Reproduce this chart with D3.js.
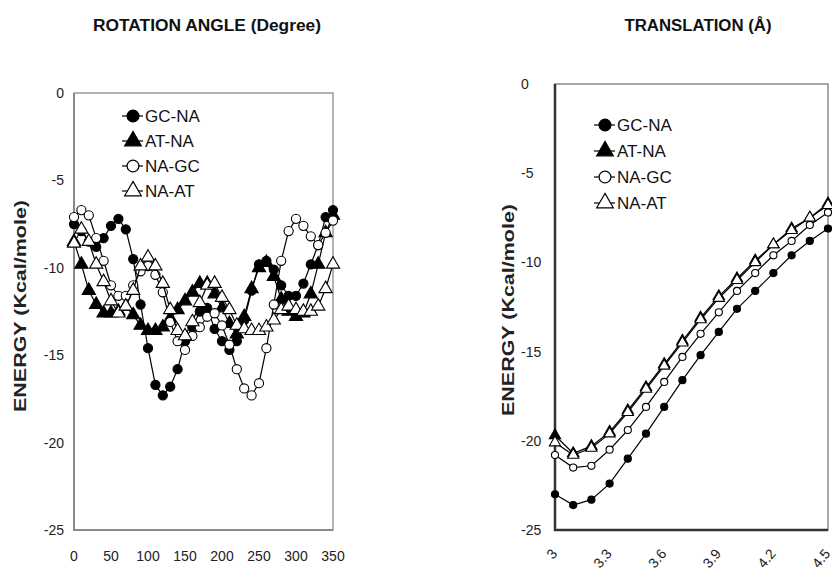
<!DOCTYPE html>
<html>
<head>
<meta charset="utf-8">
<script src="https://cdn.jsdelivr.net/npm/d3@7"></script>
<style>
  body { margin: 0; background: #fff; }
  svg { display: block; font-family: "Liberation Sans", Arial, sans-serif; }
</style>
</head>
<body>
<svg id="chart" width="832" height="577"></svg>
<script>
// rotation panel
const angles = [0, 10, 20, 30, 40, 50, 60, 70, 80, 90, 100, 110, 120, 130, 140, 150, 160, 170,
  180, 190, 200, 210, 220, 230, 240, 250, 260, 270, 280, 290, 300, 310, 320, 330, 340, 350];
const rotGCNA = [-7.5, -7.9, -8.5, -8.8, -8.3, -7.6, -7.2, -7.8, -9.5, -12.1, -14.6, -16.7,
  -17.3, -16.8, -15.8, -14.2, -13.4, -12.5, -12.3, -13.5, -14.2, -14.7, -14.2, -13.0,
  -11.3, -9.8, -9.6, -10.1, -11.0, -11.6, -11.6, -10.9, -9.8, -8.7, -7.1, -6.7];
const rotATNA = [-8.5, -9.8, -11.3, -12.1, -12.6, -12.6, -12.5, -12.2, -12.7, -13.3, -13.6, -13.6,
  -13.4, -12.9, -12.4, -11.9, -11.4, -10.9, -10.9, -11.5, -12.3, -13.2, -13.8, -12.8,
  -11.2, -10.0, -9.7, -10.5, -11.8, -12.5, -12.8, -12.6, -11.5, -9.8, -8.0, -7.0];
const rotNAGC = [-7.1, -6.7, -7.0, -8.3, -9.6, -11.0, -11.6, -11.6, -11.0, -10.2, -9.9, -10.4,
  -11.4, -13.1, -14.2, -14.7, -13.9, -13.4, -12.8, -12.6, -13.3, -14.4, -15.8, -16.9,
  -17.3, -16.6, -14.6, -12.1, -9.6, -7.9, -7.2, -7.6, -8.2, -8.7, -8.0, -7.3];
const rotNAAT = [-8.6, -7.8, -8.5, -9.8, -10.8, -11.9, -12.6, -12.2, -11.3, -9.9, -9.4, -9.9,
  -10.9, -12.4, -13.6, -13.9, -13.1, -12.0, -11.0, -10.9, -11.7, -12.4, -13.3, -13.5,
  -13.6, -13.6, -13.4, -13.0, -12.4, -12.2, -12.4, -12.5, -12.5, -12.2, -11.2, -9.8];

// translation panel
const shifts = [3.0, 3.1, 3.2, 3.3, 3.4, 3.5, 3.6, 3.7, 3.8, 3.9, 4.0, 4.1, 4.2, 4.3, 4.4, 4.5];
const trGCNA = [-23.0, -23.6, -23.3, -22.4, -21.0, -19.6, -18.1, -16.6, -15.2, -13.9, -12.6,
  -11.6, -10.6, -9.6, -8.8, -8.1];
const trATNA = [-19.7, -20.7, -20.3, -19.5, -18.3, -17.0, -15.7, -14.4, -13.1, -11.9, -10.9,
  -9.9, -9.0, -8.1, -7.5, -6.7];
const trNAGC = [-20.8, -21.5, -21.4, -20.5, -19.4, -18.1, -16.7, -15.3, -14.0, -12.8, -11.6,
  -10.6, -9.6, -8.8, -7.9, -7.2];
const trNAAT = [-20.1, -20.8, -20.4, -19.6, -18.4, -17.1, -15.8, -14.5, -13.2, -12.0, -11.0,
  -10.0, -9.0, -8.2, -7.5, -6.8];

const seriesNames = ['GC-NA', 'AT-NA', 'NA-GC', 'NA-AT'];
const seriesStyle = [
  { shape: d3.symbolCircle, fill: '#000' },
  { shape: d3.symbolTriangle, fill: '#000' },
  { shape: d3.symbolCircle, fill: '#fff' },
  { shape: d3.symbolTriangle, fill: '#fff' }
];
const energyTicks = [0, -5, -10, -15, -20, -25];
const angleTicks = [0, 50, 100, 150, 200, 250, 300, 350];
const shiftTicks = ['3', '3.3', '3.6', '3.9', '4.2', '4.5'];

const svg = d3.select('#chart');

function drawPanel(opt) {
  const x = d3.scaleLinear().domain(opt.xDomain).range([opt.left, opt.right]);
  const y = d3.scaleLinear().domain([-25, 0]).range([opt.bottom, opt.top]);
  const g = svg.append('g');

  // frame
  g.append('rect')
    .attr('x', opt.left).attr('y', opt.top)
    .attr('width', opt.right - opt.left).attr('height', opt.bottom - opt.top)
    .attr('fill', 'none').attr('stroke', opt.frameLight).attr('stroke-width', 1.5);
  g.append('path')
    .attr('d', `M${opt.left},${opt.top}V${opt.bottom}H${opt.right}`)
    .attr('fill', 'none').attr('stroke', opt.frameDark).attr('stroke-width', opt.frameWidth);

  // y ticks
  g.selectAll('.ytl').data(energyTicks).enter().append('text')
    .attr('x', opt.yLabelX).attr('y', d => y(d) + 5)
    .attr('text-anchor', opt.yAnchor)
    .attr('font-size', 14).attr('fill', '#222')
    .text(d => d);

  // y title
  g.append('text')
    .attr('transform', `translate(${opt.yTitleX},${opt.yTitleY}) rotate(-90)`)
    .attr('text-anchor', 'middle')
    .attr('font-size', 17).attr('font-weight', 'bold').attr('fill', '#222')
    .attr('textLength', 212).attr('lengthAdjust', 'spacingAndGlyphs')
    .text('ENERGY (Kcal/mole)');

  // panel title
  g.append('text')
    .attr('x', opt.titleX).attr('y', 31)
    .attr('text-anchor', 'middle')
    .attr('font-size', 16).attr('font-weight', 'bold').attr('fill', '#111')
    .attr('textLength', opt.titleLen).attr('lengthAdjust', 'spacingAndGlyphs')
    .text(opt.title);

  const line = d3.line().x(d => x(d[0])).y(d => y(d[1]));
  opt.series.forEach((vals, i) => {
    const pts = opt.xs.map((v, j) => [v, vals[j]]);
    g.append('path').datum(pts)
      .attr('d', line).attr('fill', 'none')
      .attr('stroke', '#000').attr('stroke-width', 1.2);
    const sym = d3.symbol().type(seriesStyle[i].shape)
      .size(seriesStyle[i].shape === d3.symbolCircle ? opt.circSize : opt.triSize);
    g.selectAll('.m' + i).data(pts).enter().append('path')
      .attr('d', sym)
      .attr('transform', d => `translate(${x(d[0])},${y(d[1])})`)
      .attr('fill', seriesStyle[i].fill)
      .attr('stroke', '#000').attr('stroke-width', 1.1);
  });

  // legend
  seriesNames.forEach((name, i) => {
    const ly = opt.legY + i * opt.legStep;
    g.append('line')
      .attr('x1', opt.legX).attr('x2', opt.legX + 21)
      .attr('y1', ly).attr('y2', ly)
      .attr('stroke', '#000').attr('stroke-width', 1.2);
    const sym = d3.symbol().type(seriesStyle[i].shape)
      .size(seriesStyle[i].shape === d3.symbolCircle ? 110 : 120);
    g.append('path').attr('d', sym)
      .attr('transform', `translate(${opt.legX + 11},${ly})`)
      .attr('fill', seriesStyle[i].fill)
      .attr('stroke', '#000').attr('stroke-width', 1.2);
    g.append('text')
      .attr('x', opt.legX + 23).attr('y', ly + 6)
      .attr('font-size', 17).attr('fill', '#111')
      .text(name);
  });

  return { x, y, g };
}

const p1 = drawPanel({
  left: 74, right: 333, top: 93, bottom: 530,
  xDomain: [0, 350], xs: angles,
  series: [rotGCNA, rotATNA, rotNAGC, rotNAAT],
  frameLight: '#9a9a9a', frameDark: '#8a8a8a', frameWidth: 2,
  yLabelX: 64, yAnchor: 'end', yTitleX: 26, yTitleY: 306,
  title: 'ROTATION ANGLE (Degree)', titleX: 207, titleLen: 228,
  circSize: 66, triSize: 76,
  legX: 122, legY: 116, legStep: 25
});
p1.g.selectAll('.xtl').data(angleTicks).enter().append('text')
  .attr('x', d => p1.x(d)).attr('y', 561)
  .attr('text-anchor', 'middle')
  .attr('font-size', 14).attr('fill', '#222')
  .text(d => d);

const p2 = drawPanel({
  left: 555, right: 828, top: 84, bottom: 530,
  xDomain: [3.0, 4.5], xs: shifts,
  series: [trGCNA, trATNA, trNAGC, trNAAT],
  frameLight: '#8a8a8a', frameDark: '#333', frameWidth: 2.5,
  yLabelX: 521, yAnchor: 'start', yTitleX: 514, yTitleY: 310,
  title: 'TRANSLATION (\u00c5)', titleX: 698, titleLen: 147,
  circSize: 40, triSize: 55,
  legX: 594, legY: 125, legStep: 26
});
p2.g.selectAll('.xtl').data(shiftTicks).enter().append('text')
  .attr('transform', d => `translate(${p2.x(+d) + 3},${554}) rotate(-50)`)
  .attr('text-anchor', 'end')
  .attr('font-size', 14).attr('fill', '#222')
  .text(d => d);
</script>
</body>
</html>
